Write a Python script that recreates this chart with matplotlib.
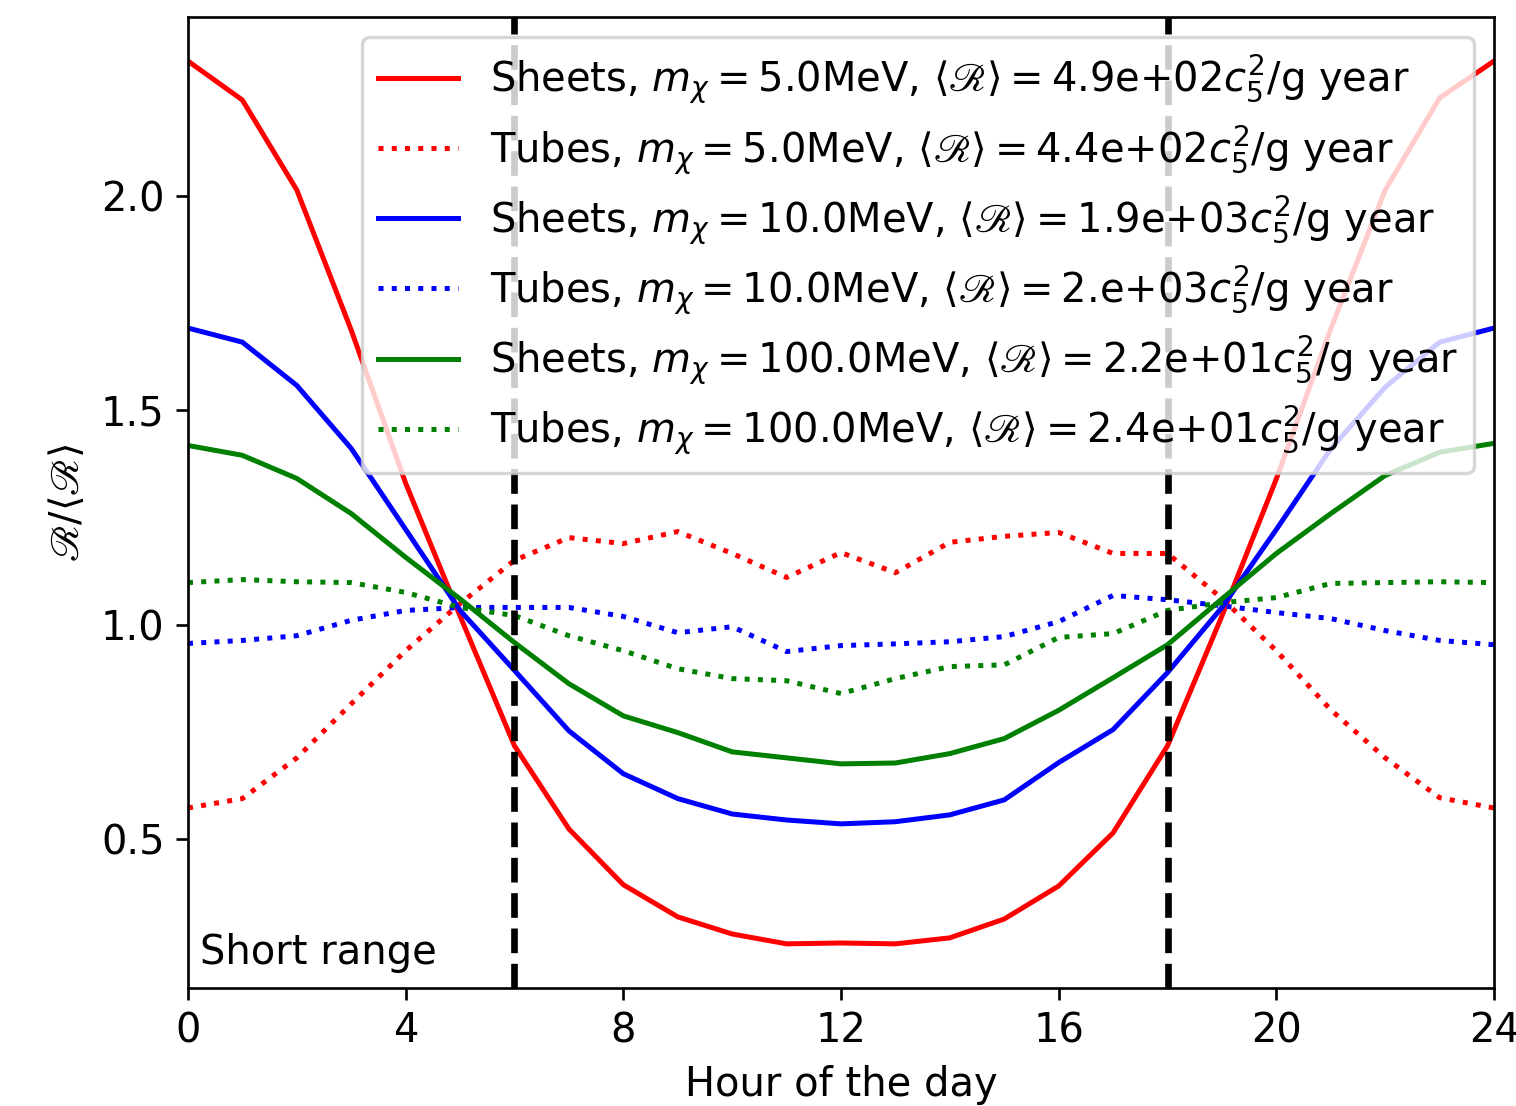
import matplotlib
matplotlib.use('Agg')
import matplotlib.pyplot as plt
import numpy as np

# hours sampled 0..24
hours = np.arange(25)

# --- data (R / <R>) ---
sheets_5 = [2.315, 2.224, 2.014, 1.687, 1.33, 1.02, 0.717, 0.523, 0.393, 0.318, 0.278, 0.255, 0.257,
            0.255, 0.269, 0.313, 0.39, 0.514, 0.717, 1.02, 1.34, 1.69, 2.014, 2.229, 2.315]
tubes_5 = [0.572, 0.594, 0.689, 0.815, 0.939, 1.049, 1.150, 1.203, 1.189, 1.217, 1.166, 1.11, 1.168,
           1.121, 1.192, 1.206, 1.215, 1.166, 1.166, 1.061, 0.939, 0.801, 0.689, 0.596, 0.572]
sheets_10 = [1.692, 1.659, 1.558, 1.411, 1.222, 1.033, 0.893, 0.752, 0.652, 0.594, 0.558, 0.544, 0.535,
             0.540, 0.556, 0.591, 0.678, 0.755, 0.888, 1.04, 1.222, 1.41, 1.554, 1.659, 1.692]
tubes_10 = [0.956, 0.963, 0.974, 1.01, 1.033, 1.04, 1.04, 1.04, 1.019, 0.981, 0.995, 0.937, 0.951,
            0.955, 0.96, 0.972, 1.007, 1.068, 1.058, 1.044, 1.028, 1.014, 0.986, 0.963, 0.953]
sheets_100 = [1.418, 1.395, 1.341, 1.259, 1.157, 1.06, 0.958, 0.862, 0.787, 0.748, 0.703, 0.689, 0.675,
              0.677, 0.699, 0.734, 0.80, 0.876, 0.953, 1.06, 1.166, 1.259, 1.348, 1.402, 1.423]
tubes_100 = [1.098, 1.105, 1.100, 1.098, 1.075, 1.04, 1.021, 0.974, 0.939, 0.897, 0.874, 0.869, 0.839,
             0.874, 0.902, 0.906, 0.97, 0.979, 1.033, 1.051, 1.063, 1.096, 1.098, 1.100, 1.098]

kinds = ['Sheets', 'Tubes', 'Sheets', 'Tubes', 'Sheets', 'Tubes']
masses = ['5.0', '5.0', '10.0', '10.0', '100.0', '100.0']
mean_rates = ['4.9e+02', '4.4e+02', '1.9e+03', '2.e+03', '2.2e+01', '2.4e+01']

series = [sheets_5, tubes_5, sheets_10, tubes_10, sheets_100, tubes_100]
colors = ['red', 'red', 'blue', 'blue', 'green', 'green']
styles = ['-', ':', '-', ':', '-', ':']

day_edges = [6, 18]

plt.rcParams['font.size'] = 12

fig = plt.figure(figsize=(1516 / 240, 1106 / 240), dpi=240)
ax = fig.add_axes([0.124, 0.1067, 0.8615, 0.878])

for y, c, ls, kind, m, r in zip(series, colors, styles, kinds, masses, mean_rates):
    lab = kind + r', $m_\chi = $' + m + r'MeV, $\langle\mathscr{R}\rangle = $' + r + r'$c_5^2$/g year'
    ax.plot(hours, y, color=c, ls=ls, lw=1.5, label=lab)

for xv in day_edges:
    ax.axvline(xv, color='k', ls='--', lw=2.0)

ax.set_xlim(0, 24)
ax.set_xticks([0, 4, 8, 12, 16, 20, 24])
ax.set_yticks([0.5, 1.0, 1.5, 2.0])
ax.set_xlabel('Hour of the day')
ax.set_ylabel(r'$\mathscr{R}/\langle\mathscr{R}\rangle$')
ax.text(0.009, 0.015, 'Short range', transform=ax.transAxes, va='bottom', ha='left')
ax.legend(loc='upper right', labelspacing=0.42)

fig.savefig('out.png', dpi=240)
